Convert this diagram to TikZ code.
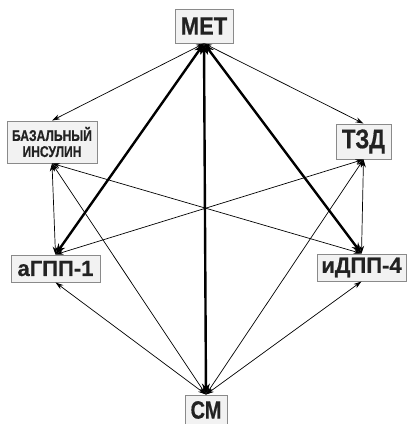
\documentclass[tikz,border=0pt]{standalone}
\usepackage{fontspec}
\setmainfont{Liberation Sans}
\newfontfamily\heavyfont{Liberation Sans}[UprightFont={* Bold}, FakeBold=0.6]
\usetikzlibrary{arrows.meta}
\definecolor{boxfill}{HTML}{F2F2F2}
\definecolor{boxline}{HTML}{8A8A8A}
\definecolor{txt}{HTML}{222222}
\newcommand{\lbl}[3]{\scalebox{#1}[1]{\fontsize{#2}{#2}\heavyfont #3}}
\tikzset{
  lblbox/.style={draw=boxline, fill=boxfill, line width=0.9pt, inner sep=0pt, text=txt, align=center},
  thinarr/.style={line width=0.7pt, {Stealth[length=8pt,width=5pt]}-{Stealth[length=8pt,width=5pt]}},
  thickarr/.style={line width=2.4pt, {Stealth[length=11pt,width=8pt]}-{Stealth[length=11pt,width=8pt]}}
}
\begin{document}
\begin{tikzpicture}[x=1pt,y=-1pt]
\useasboundingbox (0,0) rectangle (407,424);
\node[lblbox, minimum width=58pt, minimum height=34pt] (met) at (204,26) {\lbl{0.88}{25}{МЕТ}};
\node[lblbox, minimum width=90pt, minimum height=42pt] (baz) at (52,142) {\lbl{0.78}{15.5}{БАЗАЛЬНЫЙ}\\[4pt]\lbl{0.78}{15.5}{ИНСУЛИН}};
\node[lblbox, minimum width=55pt, minimum height=35pt] (tzd) at (363.5,141.5) {\lbl{0.82}{27}{ТЗД}};
\node[lblbox, minimum width=89pt, minimum height=27pt] (agpp) at (55.5,268.5) {\lbl{1.0}{22}{аГПП-1}};
\node[lblbox, minimum width=89pt, minimum height=27pt] (idpp) at (361.5,267.5) {\lbl{1.0}{22}{иДПП-4}};
\node[lblbox, minimum width=42pt, minimum height=30pt] (sm) at (206,410) {\lbl{0.8}{25}{СМ}};
% connectors
\draw[thinarr] (met.south) -- (baz.north);
\draw[thinarr] (met.south) -- (tzd.north);
\draw[thickarr] (met.south) -- (agpp.north);
\draw[thickarr] (met.south) -- (idpp.north);
\draw[thickarr] (met.south) -- (sm.north);
\draw[thinarr] (baz.south) -- (agpp.north);
\draw[thinarr] (baz.south) -- (idpp.north);
\draw[thinarr] (baz.south) -- (sm.north);
\draw[thinarr] (tzd.south) -- (agpp.north);
\draw[thinarr] (tzd.south) -- (idpp.north);
\draw[thinarr] (tzd.south) -- (sm.north);
\draw[thinarr] (agpp.south) -- (sm.north);
\draw[thinarr] (idpp.south) -- (sm.north);
\end{tikzpicture}
\end{document}
